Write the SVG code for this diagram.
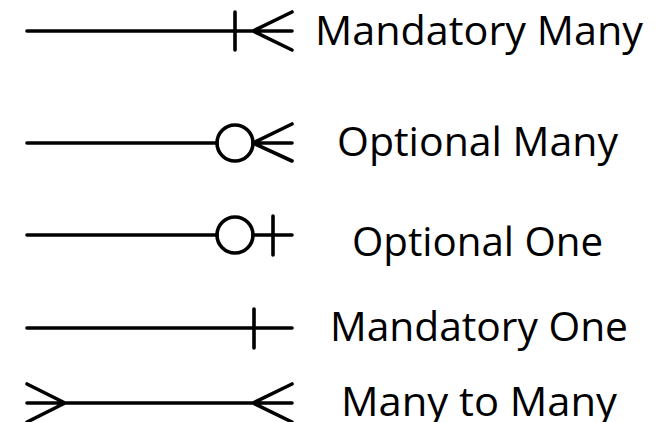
<svg xmlns="http://www.w3.org/2000/svg" width="672" height="422" viewBox="0 0 672 422">
<style>
.ln{fill:none;stroke:#000;stroke-width:3.6;stroke-linecap:round;stroke-linejoin:round}
.lb{font-family:"Open Sans","Noto Sans",sans-serif;font-size:40px;fill:#000}
</style>
<rect width="672" height="422" fill="#fff"/>
<g id="connectors">
<g id="mandatory-many">
<path class="ln" d="M27 31H292M235 12V50M292 12L253 31L292 50"/>
</g>
<g id="optional-many">
<path class="ln" d="M27 143H217M253 143H292M292 124L253 143L292 161"/>
<circle class="ln" cx="235" cy="143" r="18"/>
</g>
<g id="optional-one">
<path class="ln" d="M27 235H217M253 235H292M273 216V255"/>
<circle class="ln" cx="235" cy="235" r="18"/>
</g>
<g id="mandatory-one">
<path class="ln" d="M27 328H292M254 309V348"/>
</g>
<g id="many-to-many">
<path class="ln" d="M27 403H292M27 384L65 403L27 422M292 384L253 403L292 422"/>
</g>
</g>
<g id="labels">
<text class="lb" x="315" y="45" textLength="328" lengthAdjust="spacingAndGlyphs">Mandatory Many</text>
<text class="lb" x="337" y="156" textLength="281" lengthAdjust="spacingAndGlyphs">Optional Many</text>
<text class="lb" x="352" y="256" textLength="251" lengthAdjust="spacingAndGlyphs">Optional One</text>
<text class="lb" x="330" y="341" textLength="298" lengthAdjust="spacingAndGlyphs">Mandatory One</text>
<text class="lb" x="341" y="416" textLength="276" lengthAdjust="spacingAndGlyphs">Many to Many</text>
</g>
</svg>
